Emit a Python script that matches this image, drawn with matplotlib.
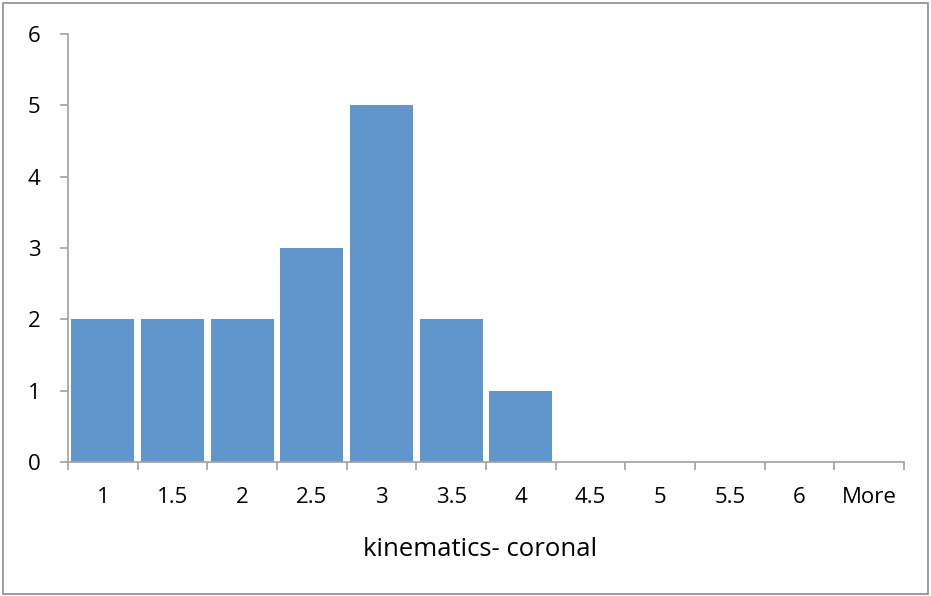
import matplotlib
matplotlib.use("Agg")
import matplotlib.pyplot as plt
from matplotlib.patches import Rectangle

categories = ["1", "1.5", "2", "2.5", "3", "3.5", "4", "4.5", "5", "5.5", "6", "More"]
counts = [2, 2, 2, 3, 5, 2, 1, 0, 0, 0, 0, 0]
yticks = [0, 1, 2, 3, 4, 5, 6]
xlabel = "kinematics- coronal"

plt.rcParams['font.family'] = ['Open Sans', 'DejaVu Sans']
fig = plt.figure(figsize=(9.31, 5.96), dpi=100)
fig.patches.append(Rectangle((0.003, 0.003), 0.994, 0.992, transform=fig.transFigure,
                             fill=False, edgecolor="#8c8c8c", linewidth=1.2))
ax = fig.add_axes([68/931, 1-462/596, 836/931, 428/596])
x = list(range(len(categories)))
ax.bar(x, counts, width=0.9, color="#6096CB", edgecolor="none")
ax.set_xlim(-0.5, len(categories) - 0.5)
ax.set_ylim(0, 6)
ax.set_yticks(yticks)
ax.set_xticks([i - 0.5 for i in range(len(categories) + 1)])
ax.set_xticklabels([])
ax.set_xticks(x, minor=True)
ax.set_xticklabels(categories, minor=True)
ax.tick_params(axis='x', which='minor', length=0, pad=18, labelsize=16)
ax.tick_params(axis='x', which='major', length=6, color="#a0a0a0", width=1.2)
ax.tick_params(axis='y', length=6, color="#a0a0a0", width=1.2, labelsize=16, pad=14)
for s in ["top", "right"]:
    ax.spines[s].set_visible(False)
for s in ["left", "bottom"]:
    ax.spines[s].set_color("#a0a0a0")
    ax.spines[s].set_linewidth(1.2)
ax.set_xlabel(xlabel, fontsize=18.5, labelpad=18)
ax.xaxis.set_label_coords(0.493, -0.175)
fig.savefig("out.png", dpi=100)
